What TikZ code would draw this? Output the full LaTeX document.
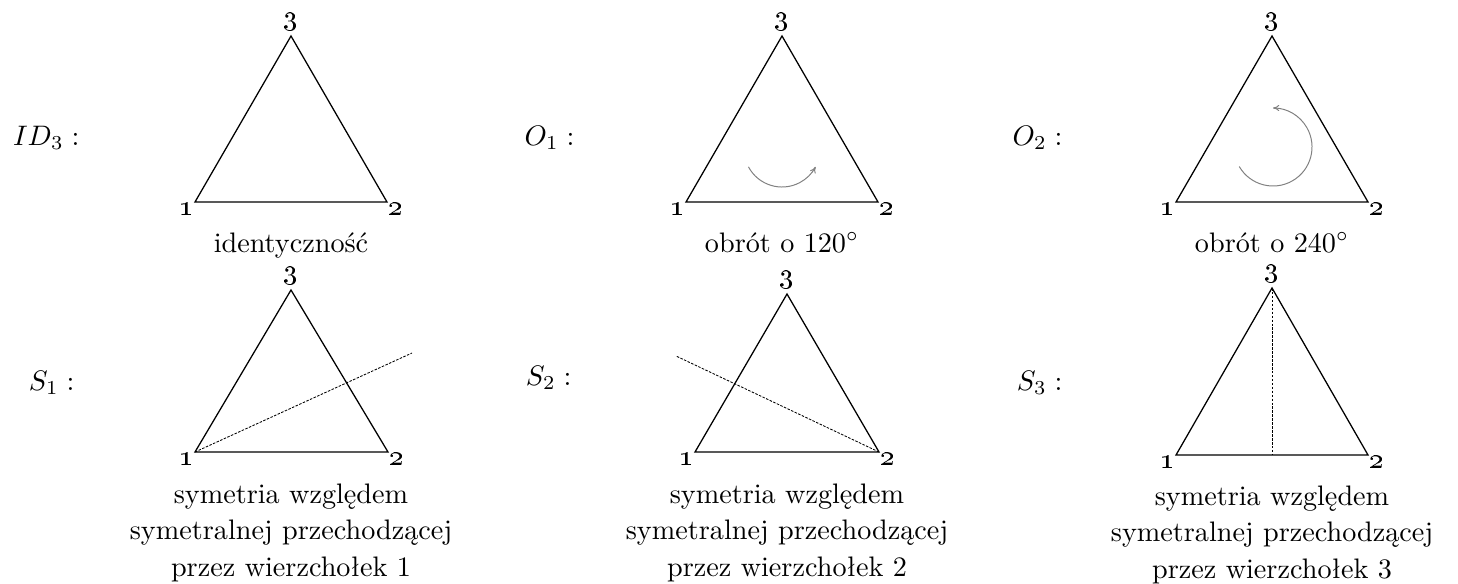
\documentclass[tikz,border=0pt]{standalone}
\usetikzlibrary{arrows.meta}

\tikzset{
    x=0.3546pt, y=-0.3546pt,
    tri/.style={line width=0.45pt, line join=miter},
    symline/.style={line width=0.3pt, dash pattern=on 0.9pt off 0.5pt},
    rotarrow/.style={gray, line width=0.35pt, -{To[length=2.2pt, width=2.2pt]}},
    vlab/.style={inner sep=0.3pt},
    vtop/.style={inner sep=1.6pt, anchor=south},
    caption/.style={align=center, inner sep=0pt, anchor=base,
        font=\fontsize{10}{12.8}\selectfont},
    rowlab/.style={inner sep=0pt, anchor=base east}
}

\begin{document}
\begin{tikzpicture}
    \useasboundingbox (0,0) rectangle (1458,583);

    % Row 1: identity and rotations
    \coordinate (a1) at (195,202);
    \coordinate (a2) at (387,202);
    \coordinate (a3) at (291,36);
    \coordinate (b1) at (686,202);
    \coordinate (b2) at (878,202);
    \coordinate (b3) at (782,36);
    \coordinate (c1) at (1176,202);
    \coordinate (c2) at (1368,202);
    \coordinate (c3) at (1272,36);

    \draw[tri] (a1) -- (a2) -- (a3) -- cycle;
    \draw[tri] (b1) -- (b2) -- (b3) -- cycle;
    \draw[tri] (c1) -- (c2) -- (c3) -- cycle;

    \node[vlab, anchor=north east] (a1l) at (a1) {\oldstylenums{1}};
    \node[vlab, anchor=north west] (a2l) at (a2) {\oldstylenums{2}};
    \node[vtop] (a3l) at (a3) {\oldstylenums{3}};
    \node[vlab, anchor=north east] (b1l) at (b1) {\oldstylenums{1}};
    \node[vlab, anchor=north west] (b2l) at (b2) {\oldstylenums{2}};
    \node[vtop] (b3l) at (b3) {\oldstylenums{3}};
    \node[vlab, anchor=north east] (c1l) at (c1) {\oldstylenums{1}};
    \node[vlab, anchor=north west] (c2l) at (c2) {\oldstylenums{2}};
    \node[vtop] (c3l) at (c3) {\oldstylenums{3}};

    % rotation arrows
    \coordinate (bc) at (782,149);
    \coordinate (cc) at (1273,147);
    \draw[rotarrow] ([shift={(152:38)}]bc) arc (152:28:38);
    \draw[rotarrow] ([shift={(150:39)}]cc) arc (150:-90:39);

    \node[rowlab] (id) at (80,145) {$ID_3:$};
    \node[rowlab] (o1) at (575,145) {$O_1:$};
    \node[rowlab] (o2) at (1063,145) {$O_2:$};

    \node[caption] (capa) at (291,252) {identyczność};
    \node[caption] (capb) at (782,252) {obrót o $120^\circ$};
    \node[caption] (capc) at (1272,252) {obrót o $240^\circ$};

    % Row 2: symmetries
    \coordinate (d1) at (195,452);
    \coordinate (d2) at (388,452);
    \coordinate (d3) at (291,290);
    \coordinate (e1) at (695,452);
    \coordinate (e2) at (879,452);
    \coordinate (e3) at (787,294);
    \coordinate (f1) at (1176,455);
    \coordinate (f2) at (1368,455);
    \coordinate (f3) at (1272,288);

    \draw[tri] (d1) -- (d2) -- (d3) -- cycle;
    \draw[tri] (e1) -- (e2) -- (e3) -- cycle;
    \draw[tri] (f1) -- (f2) -- (f3) -- cycle;

    \node[vlab, anchor=north east] (d1l) at (d1) {\oldstylenums{1}};
    \node[vlab, anchor=north west] (d2l) at (d2) {\oldstylenums{2}};
    \node[vtop] (d3l) at (d3) {\oldstylenums{3}};
    \node[vlab, anchor=north east] (e1l) at (e1) {\oldstylenums{1}};
    \node[vlab, anchor=north west] (e2l) at (e2) {\oldstylenums{2}};
    \node[vtop] (e3l) at (e3) {\oldstylenums{3}};
    \node[vlab, anchor=north east] (f1l) at (f1) {\oldstylenums{1}};
    \node[vlab, anchor=north west] (f2l) at (f2) {\oldstylenums{2}};
    \node[vtop] (f3l) at (f3) {\oldstylenums{3}};

    % axes of symmetry
    \coordinate (dend) at (412,353);
    \coordinate (eend) at (676,356);
    \coordinate (fend) at (1272,455);
    \draw[symline] (d1) -- (dend);
    \draw[symline] (e2) -- (eend);
    \draw[symline] (f3) -- (fend);

    \node[rowlab] (s1) at (75,390) {$S_1:$};
    \node[rowlab] (s2) at (572,385) {$S_2:$};
    \node[rowlab] (s3) at (1063,390) {$S_3:$};

    \node[caption] (capd) at (291,576) {symetria względem\\symetralnej przechodzącej\\przez wierzchołek 1};
    \node[caption] (cape) at (787,576) {symetria względem\\symetralnej przechodzącej\\przez wierzchołek 2};
    \node[caption] (capf) at (1272,578) {symetria względem\\symetralnej przechodzącej\\przez wierzchołek 3};
\end{tikzpicture}
\end{document}
